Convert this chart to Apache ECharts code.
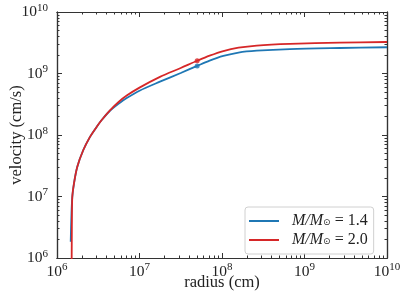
<!DOCTYPE html>
<html><head><meta charset="utf-8">
<script src="https://cdn.jsdelivr.net/npm/echarts@6/dist/echarts.min.js"></script>
<style>html,body{margin:0;padding:0;background:#fff}#c{width:407px;height:304px}</style>
</head><body><div id="c"></div>
<script>
// Data (radius in cm, velocity in cm/s)
const radiusBlue   = [1.466e6, 1.496e6, 1.531e6, 1.607e6, 1.762e6, 2.084e6, 2.512e6, 2.951e6, 3.483e6, 4.385e6, 5.623e6, 7.0e6, 1.0e7, 1.77e7, 3.162e7, 5.0e7, 7.079e7, 1.038e8, 1.585e8, 2.636e8, 6.668e8, 2.692e9, 1e10];
const velocityBlue = [1.84e6, 5.0e6, 9.7e6, 1.64e7, 3.05e7, 5.7e7, 9.33e7, 1.29e8, 1.75e8, 2.48e8, 3.24e8, 3.98e8, 5.25e8, 7.36e8, 1.02e9, 1.33e9, 1.62e9, 1.93e9, 2.19e9, 2.35e9, 2.5e9, 2.6e9, 2.67e9];
const radiusRed    = [1.50e6, 1.514e6, 1.531e6, 1.607e6, 1.762e6, 2.084e6, 2.512e6, 2.951e6, 3.483e6, 4.385e6, 5.623e6, 7.0e6, 1.0e7, 1.77e7, 3.162e7, 5.0e7, 7.079e7, 1.038e8, 1.585e8, 2.636e8, 6.668e8, 2.692e9, 1e10];
const velocityRed  = [3.0e5, 3.2e6, 9.7e6, 1.64e7, 3.05e7, 5.7e7, 9.33e7, 1.29e8, 1.75e8, 2.51e8, 3.47e8, 4.37e8, 5.89e8, 8.81e8, 1.23e9, 1.61e9, 1.95e9, 2.32e9, 2.63e9, 2.85e9, 3.03e9, 3.17e9, 3.25e9];
const markerRadius = [5.0e7, 5.0e7];
const markerVelocity = [1.33e9, 1.61e9];
const seriesNames = ['1.4', '2.0'];
const seriesColors = ['#1f77b4', '#d62728'];
const axisMin = 1e6, axisMax = 1e10;
const minorTicks = [];
for (let e = 6; e < 10; e++) for (let m = 2; m <= 9; m++) minorTicks.push(m * Math.pow(10, e));

const zip = (a, b) => a.map((v, i) => [v, b[i]]);
const serif = '"Liberation Serif", "DejaVu Serif", serif';
const labelRich = {
  b: { fontFamily: serif, fontSize: 15.5, color: '#222' },
  s: { fontFamily: serif, fontSize: 11, color: '#222', padding: [0, 0, 8, 0] }
};
const fmt = v => '{b|10}{s|' + Math.round(Math.log10(v)) + '}';
const axisColor = '#333';

function logAxis(pos, opts) {
  const base = {
    type: 'log', logBase: 10, min: axisMin, max: axisMax, position: pos,
    gridIndex: 0, splitLine: { show: false },
    axisLine: { show: true, onZero: false, lineStyle: { color: axisColor, width: 1.2 } },
    axisTick: { show: true, inside: true, length: 5, lineStyle: { color: axisColor } },
    axisLabel: { show: false }
  };
  return Object.assign(base, opts || {});
}
const minorTick = { show: true, inside: true, length: 2.5, customValues: minorTicks, lineStyle: { color: axisColor } };

const xAxes = [
  logAxis('bottom', {
    name: 'radius (cm)', nameLocation: 'middle', nameGap: 16, nameMoveOverlap: false,
    nameTextStyle: { fontFamily: serif, fontSize: 16.5, color: '#222' },
    axisLabel: { show: true, formatter: fmt, rich: labelRich, margin: 4 }
  }),
  logAxis('top'),
  logAxis('bottom', { axisTick: minorTick }),
  logAxis('top', { axisTick: minorTick })
];
const yAxes = [
  logAxis('left', {
    name: 'velocity (cm/s)', nameLocation: 'middle', nameGap: 32, nameMoveOverlap: false,
    nameTextStyle: { fontFamily: serif, fontSize: 16.5, color: '#222' },
    axisLabel: { show: true, formatter: fmt, rich: labelRich, margin: 9 }
  }),
  logAxis('right'),
  logAxis('left', { axisTick: minorTick }),
  logAxis('right', { axisTick: minorTick })
];

const chart = echarts.init(document.getElementById('c'), null, { renderer: 'canvas' });
chart.setOption({
  animation: false,
  backgroundColor: '#fff',
  grid: { left: 57, right: 20, top: 12, bottom: 46, containLabel: false, outerBoundsMode: 'none' },
  xAxis: xAxes,
  yAxis: yAxes,
  legend: {
    left: 245, top: 207, orient: 'vertical',
    data: seriesNames.map(n => ({ name: n, icon: 'rect' })),
    itemWidth: 30, itemHeight: 2, itemGap: 3,
    padding: [6, 6, 6, 4],
    borderColor: '#d0d0d0', borderWidth: 1, borderRadius: 3,
    backgroundColor: 'rgba(255,255,255,0.8)',
    formatter: n => '{sp|}{m|M/M}{o|⊙}{t| = ' + n + '}',
    textStyle: {
      fontFamily: serif, fontSize: 16, color: '#222', lineHeight: 14,
      rich: {
        sp: { width: 8 },
        m: { fontFamily: serif, fontStyle: 'italic', fontSize: 16, color: '#222' },
        o: { fontFamily: '"DejaVu Sans", sans-serif', fontSize: 9, color: '#222', padding: [0, 0, -4, 0] },
        t: { fontFamily: serif, fontSize: 16, color: '#222' }
      }
    }
  },
  series: [
    { name: seriesNames[0], type: 'line', data: zip(radiusBlue, velocityBlue), smooth: 0.3, showSymbol: false,
      clip: true, lineStyle: { color: seriesColors[0], width: 1.8 }, itemStyle: { color: seriesColors[0] }, z: 2 },
    { name: seriesNames[1], type: 'line', data: zip(radiusRed, velocityRed), smooth: 0.3, showSymbol: false,
      clip: true, lineStyle: { color: seriesColors[1], width: 1.8 }, itemStyle: { color: seriesColors[1] }, z: 3 },
    { type: 'scatter', data: [[markerRadius[0], markerVelocity[0]]], symbolSize: 5, itemStyle: { color: seriesColors[0] }, z: 4 },
    { type: 'scatter', data: [[markerRadius[1], markerVelocity[1]]], symbolSize: 5, itemStyle: { color: seriesColors[1] }, z: 4 }
  ]
});
</script></body></html>
